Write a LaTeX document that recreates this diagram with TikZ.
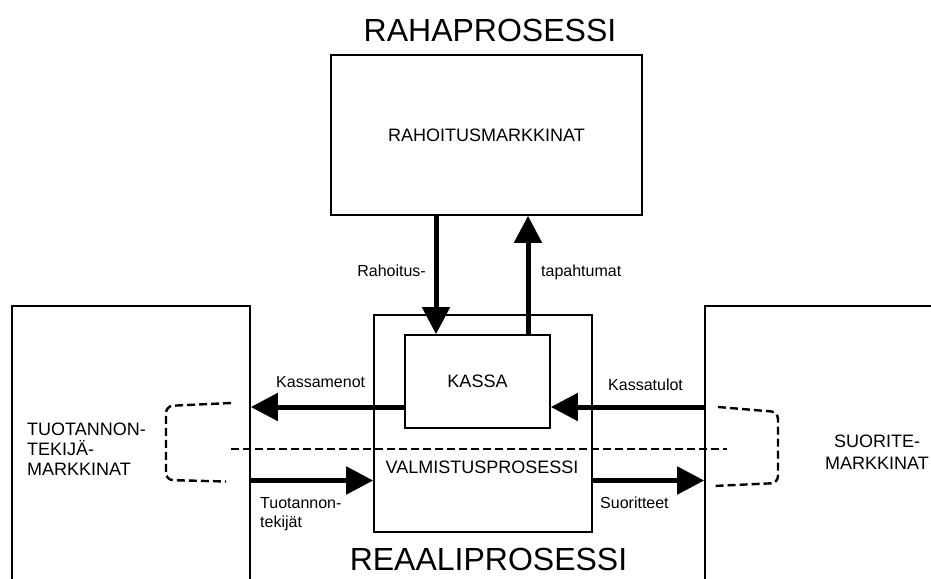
\documentclass[tikz,border=0pt]{standalone}
\usepackage{fontspec}
\setmainfont{Liberation Sans}
\usetikzlibrary{arrows.meta}

\begin{document}
\begin{tikzpicture}[x=1pt,y=-1pt,
  box/.style={draw, line width=1.6pt, rectangle, inner sep=0pt},
  flow/.style={line width=5pt, -{Triangle[length=27pt,width=27pt]}},
  split/.style={line width=2.4pt, dash pattern=on 8pt off 4pt},
  big/.style={font=\fontsize{32}{36}\selectfont, inner sep=0pt},
  mid/.style={font=\fontsize{18}{20}\selectfont, inner sep=0pt},
  small/.style={font=\fontsize{16}{18}\selectfont, inner sep=0pt}]

\clip (0,0) rectangle (931,578);
\useasboundingbox (0,0) rectangle (931,578);

% process titles
\node[big, anchor=base] (raha) at (490,42) {RAHAPROSESSI};
\node[big, anchor=base] (reaali) at (488.5,570) {REAALIPROSESSI};

% markets and the firm
\node[box, mid, minimum width=311pt, minimum height=160pt] (rm) at (486.5,135) {RAHOITUSMARKKINAT};
\node[box, minimum width=238pt, minimum height=300pt] (tmark) at (131,456) {};
\node[box, minimum width=260pt, minimum height=300pt] (smark) at (835,456) {};
\node[box, minimum width=218pt, minimum height=217pt] (valm) at (483,423.5) {};
\node[box, mid, minimum width=145pt, minimum height=93pt] (kassa) at (477.5,381.5) {KASSA};
\node[mid, anchor=base] (valmt) at (482,473) {VALMISTUSPROSESSI};

% market labels
\node[mid, anchor=base west] (tm1) at (27,435) {TUOTANNON-};
\node[mid, anchor=base west] (tm2) at (27,455) {TEKIJÄ-};
\node[mid, anchor=base west] (tm3) at (27,475) {MARKKINAT};
\node[mid, anchor=base] (sm1) at (877,447) {SUORITE-};
\node[mid, anchor=base] (sm2) at (877,469) {MARKKINAT};

% guide coordinates for the flows
\coordinate (xdown) at (436,0);
\coordinate (xup) at (528,0);
\coordinate (ycash) at (0,407);
\coordinate (yreal) at (0,480.5);

% financial flows
\draw[flow] (rm.south -| xdown) -- (kassa.north -| xdown);
\draw[flow] (kassa.north -| xup) -- (rm.south -| xup);
\draw[flow] (kassa.west |- ycash) -- (tmark.east |- ycash);
\draw[flow] (smark.west |- ycash) -- (kassa.east |- ycash);

% real flows
\draw[flow] (tmark.east |- yreal) -- (valm.west |- yreal);
\draw[flow] (valm.east |- yreal) -- (smark.west |- yreal);

% flow labels
\node[small, anchor=base east] (l1) at (426,276) {Rahoitus-};
\node[small, anchor=base west] (l2) at (541,276) {tapahtumat};
\node[small, anchor=base west] (l3) at (276,387) {Kassamenot};
\node[small, anchor=base west] (l4) at (608,390) {Kassatulot};
\node[small, anchor=base west] (l5) at (260,508) {Tuotannon-};
\node[small, anchor=base west] (l6) at (260,527) {tekijät};
\node[small, anchor=base west] (l7) at (600,508) {Suoritteet};

% boundary between money and real process
\coordinate (dl) at (231,449);
\coordinate (dr) at (727,449);
\draw[split] (dl) -- (dr);

% market brackets
\draw[split, rounded corners=7pt] (231,403) -- (166,406) -- (166,480) -- (226,481.5);
\draw[split, rounded corners=7pt] (718,407) -- (778,412) -- (778,483) -- (713,486);

\end{tikzpicture}
\end{document}
